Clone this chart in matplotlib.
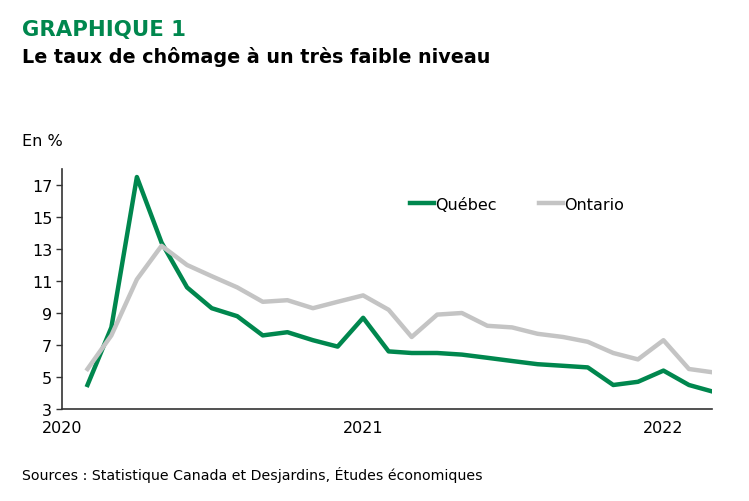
import matplotlib
matplotlib.use('Agg')
import matplotlib.pyplot as plt
import pandas as pd

# monthly unemployment rate, Feb 2020 -> Mar 2022
months = pd.date_range('2020-02-01', '2022-03-01', freq='MS')
quebec = [4.5, 8.1, 17.5, 13.4, 10.6, 9.3, 8.8, 7.6, 7.8, 7.3, 6.9, 8.7,
          6.6, 6.5, 6.5, 6.4, 6.2, 6.0, 5.8, 5.7, 5.6, 4.5, 4.7, 5.4, 4.5, 4.1]
ontario = [5.5, 7.6, 11.1, 13.2, 12.0, 11.3, 10.6, 9.7, 9.8, 9.3, 9.7, 10.1,
           9.2, 7.5, 8.9, 9.0, 8.2, 8.1, 7.7, 7.5, 7.2, 6.5, 6.1, 7.3, 5.5, 5.3]
year_ticks = ['2020', '2021', '2022']
y_ticks = [3, 5, 7, 9, 11, 13, 15, 17]

green = '#00874E'
grey = '#C4C4C4'
plt.rcParams['font.family'] = ['DejaVu Sans']

fig = plt.figure(figsize=(7.49, 5.02), dpi=100)
ax = fig.add_axes([62/749, 92/502, 650/749, 240/502])

ax.plot(months, quebec, color=green, lw=3.2, label='Québec')
ax.plot(months, ontario, color=grey, lw=3.2, label='Ontario')

ax.set_xlim(pd.Timestamp('2020-01-01'), pd.Timestamp('2022-03-01'))
ax.set_ylim(3, 18)
ax.set_yticks(y_ticks)
ax.set_xticks([pd.Timestamp(y + '-01-01') for y in year_ticks])
ax.set_xticklabels(year_ticks)
ax.tick_params(axis='y', length=4, width=1, labelsize=11.5, pad=3, color='#333333')
ax.tick_params(axis='x', length=0, labelsize=11.5, pad=8)
for s in ['top', 'right']:
    ax.spines[s].set_visible(False)
for s in ['left', 'bottom']:
    ax.spines[s].set_color('#333333')
    ax.spines[s].set_linewidth(1.2)

ax.legend(loc='center', bbox_to_anchor=(0.70, 0.854), ncol=2, frameon=False,
          handlelength=1.5, handletextpad=0.1, columnspacing=2.6, fontsize=11.5)

fig.text(22/749, 1 - 30/502, 'GRAPHIQUE 1', color=green, fontsize=15.3, fontweight='bold', va='center')
fig.text(22/749, 1 - 57/502, 'Le taux de chômage à un très faible niveau', color='black',
         fontsize=13.8, fontweight='bold', va='center')
fig.text(22/749, 1 - 142/502, 'En %', fontsize=11.5, va='center')
fig.text(22/749, 1 - 475/502, 'Sources : Statistique Canada et Desjardins, Études économiques',
         fontsize=10.2, va='center')

fig.savefig('out.png', dpi=100)
